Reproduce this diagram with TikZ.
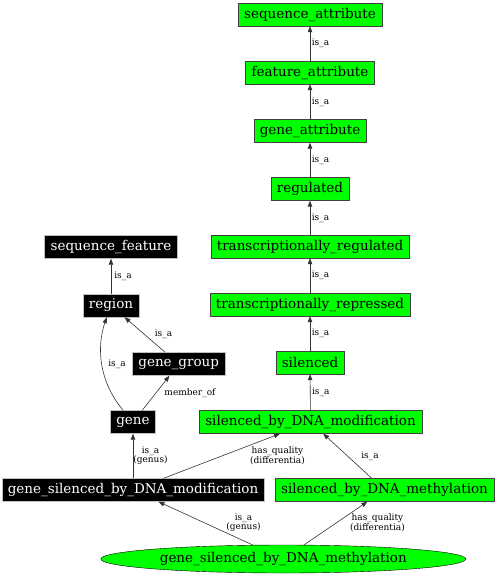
\documentclass[tikz,border=0pt]{standalone}
\usepackage{fontspec}
\setmainfont{DejaVu Serif}
\usetikzlibrary{shapes.geometric, arrows.meta, positioning}

\tikzset{
 term/.style={draw=black!75, fill=green, font=\fontsize{13.5}{15}\selectfont, minimum height=23pt, inner xsep=6pt, inner ysep=0pt},
 cls/.style={draw=black!25, fill=black, text=white, font=\fontsize{13.5}{15}\selectfont, minimum height=23pt, inner xsep=6pt, inner ysep=0pt},
 isa/.style={draw=black!80, line width=0.6pt, -{Triangle[length=6pt, width=4.5pt]}},
 lbl/.style={font=\fontsize{9}{9.5}\selectfont, align=center, inner sep=1.5pt}
}

\begin{document}
\begin{tikzpicture}[x=1pt, y=-1pt]
 \useasboundingbox (0,0) rectangle (496,576);
 % attribute chain
 \node[term] (seqattr) at (310,14.5) {sequence\_attribute};
 \node[term] (featattr) at (310,72.5) {feature\_attribute};
 \node[term] (geneattr) at (310,131) {gene\_attribute};
 \node[term] (regulated) at (310,189) {regulated};
 \node[term] (transreg) at (310,246.5) {transcriptionally\_regulated};
 \node[term] (transrep) at (310,304.5) {transcriptionally\_repressed};
 \node[term] (silenced) at (310,362.5) {silenced};
 \node[term] (sbdmod) at (310.5,422) {silenced\_by\_DNA\_modification};
 \node[term] (sbdmeth) at (384.5,490) {silenced\_by\_DNA\_methylation};
 % feature side
 \node[cls] (seqfeat) at (111,247) {sequence\_feature};
 \node[cls] (region) at (111,305.5) {region};
 \node[cls] (genegroup) at (178.7,364) {gene\_group};
 \node[cls] (gene) at (133,422) {gene};
 \node[cls] (gsbdmod) at (133,490) {gene\_silenced\_by\_DNA\_modification};
 \node[ellipse, draw=black, fill=green, minimum width=365pt, minimum height=28pt, inner sep=0pt,
  font=\fontsize{13.5}{15}\selectfont] (gsbdmeth) at (283.3,559) {gene\_silenced\_by\_DNA\_methylation};

 \foreach \lo/\hi in {featattr/seqattr, geneattr/featattr, regulated/geneattr, transreg/regulated,
  transrep/transreg, silenced/transrep, sbdmod/silenced}
  \draw[isa] (\lo) -- node[lbl, right] {is\_a} (\hi);

 \draw[isa] (region) -- (seqfeat) node[lbl] at (123,276) {is\_a};
 \draw[isa] (genegroup) -- (region) node[lbl] at (163.5,334) {is\_a};
 \draw[isa] (gene) .. controls (96,378) and (98,342) .. (region) node[lbl] at (117,364) {is\_a};
 \draw[isa] (gene) -- (genegroup) node[lbl] at (190,393) {member\_of};
 \draw[isa] (gsbdmod) -- (gene) node[lbl] at (150.5,455.7) {is\_a\\(genus)};
 \draw[isa] (gsbdmod) -- (sbdmod) node[lbl] at (277.5,455.7) {has\_quality\\(differentia)};
 \draw[isa] (sbdmeth) -- (sbdmod) node[lbl] at (370,456) {is\_a};
 \draw[isa] (gsbdmeth) -- (gsbdmod) node[lbl] at (243.5,522.8) {is\_a\\(genus)};
 \draw[isa] (gsbdmeth) -- (sbdmeth) node[lbl] at (377.5,522.8) {has\_quality\\(differentia)};
\end{tikzpicture}
\end{document}
